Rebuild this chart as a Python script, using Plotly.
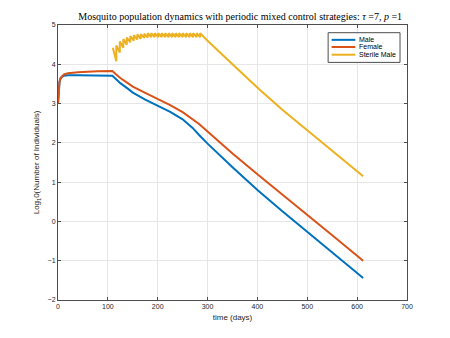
import plotly.graph_objects as go

# Male population (log10)
male_t = [0, 1, 2, 3, 5, 8, 12, 20, 40, 80, 109, 115, 125, 140, 150, 175, 200, 225, 250, 270, 283, 300, 350, 400, 450, 500, 550, 612]
male_y = [3.0, 3.3, 3.45, 3.55, 3.63, 3.68, 3.71, 3.72, 3.72, 3.71, 3.71, 3.64, 3.52, 3.38, 3.28, 3.10, 2.94, 2.79, 2.60, 2.38, 2.20, 1.98, 1.38, 0.80, 0.26, -0.27, -0.79, -1.44]

# Female population (log10)
female_t = [0, 1, 2, 3, 5, 8, 12, 20, 40, 80, 109, 115, 125, 140, 150, 175, 200, 225, 250, 270, 283, 300, 350, 400, 439, 500, 550, 612]
female_y = [3.0, 3.3, 3.45, 3.55, 3.65, 3.70, 3.74, 3.77, 3.80, 3.82, 3.83, 3.76, 3.65, 3.52, 3.43, 3.27, 3.12, 2.96, 2.78, 2.60, 2.48, 2.29, 1.73, 1.20, 0.80, 0.17, -0.35, -1.0]

# Sterile male releases every 7 days: value just after release and just before the next one
release_t = [110, 117, 124, 131, 138, 145, 152, 159, 166, 173, 180, 187, 194, 201, 208, 215, 222, 229, 236, 243, 250, 257, 264, 271, 278, 285]
peak_y = [4.42, 4.48, 4.58, 4.64, 4.68, 4.72, 4.74, 4.76, 4.77, 4.78, 4.79, 4.79, 4.79, 4.79, 4.79, 4.79, 4.79, 4.79, 4.79, 4.79, 4.79, 4.79, 4.79, 4.79, 4.79, 4.79]
trough_y = [4.08, 4.30, 4.42, 4.50, 4.56, 4.60, 4.63, 4.65, 4.67, 4.68, 4.69, 4.69, 4.69, 4.69, 4.69, 4.69, 4.69, 4.69, 4.69, 4.69, 4.69, 4.69, 4.69, 4.69, 4.69]
# decline after the last release
decline_t = [300, 350, 403, 450, 523, 612]
decline_y = [4.60, 4.00, 3.37, 2.84, 2.07, 1.15]

legend_names = ["Male", "Female", "Sterile Male"]
colors = ["#0072BD", "#D95319", "#EDB120"]

sterile_t, sterile_y = [], []
for k, r in enumerate(release_t):
    if k > 0:
        sterile_t.append(r)
        sterile_y.append(trough_y[k - 1])
    sterile_t.append(r)
    sterile_y.append(peak_y[k])
sterile_t += decline_t
sterile_y += decline_y

fig = go.Figure()
series = [(male_t, male_y), (female_t, female_y), (sterile_t, sterile_y)]
for (t, y), name, c in zip(series, legend_names, colors):
    fig.add_trace(go.Scatter(x=t, y=y, mode="lines", name=name, line=dict(color=c, width=2), showlegend=False))

# compact MATLAB-style legend drawn by hand (plotly's legend rows are too tall)
fig.add_shape(type="rect", xref="paper", yref="paper", x0=0.774, x1=0.980, y0=0.864, y1=0.972,
              line=dict(color="#4d4d4d", width=1), fillcolor="white", layer="above")
rows = [0.946, 0.920, 0.892]
for name, c, ry in zip(legend_names, colors, rows):
    fig.add_shape(type="line", xref="paper", yref="paper", x0=0.784, x1=0.852, y0=ry, y1=ry,
                  line=dict(color=c, width=2), layer="above")
    fig.add_annotation(xref="paper", yref="paper", x=0.858, y=ry, text=name, showarrow=False,
                       xanchor="left", yanchor="middle",
                       font=dict(family="Liberation Sans", size=7, color="black"))

axis_style = dict(
    showline=True, linecolor="#4d4d4d", linewidth=1, mirror="ticks",
    ticks="inside", ticklen=3, tickcolor="#4d4d4d",
    showgrid=True, gridcolor="#e6e6e6", gridwidth=1, zeroline=False,
    tickfont=dict(family="Liberation Sans", size=7, color="#262626"),
)

# page body has an 8px margin, so the margins are shifted to compensate
fig.update_layout(
    width=450, height=338,
    margin=dict(l=50, r=51, t=17, b=46),
    paper_bgcolor="white", plot_bgcolor="white",
    title=dict(
        text="Mosquito population dynamics with periodic mixed control strategies: <i>τ</i> =7, <i>p</i> =1",
        x=0.516, xanchor="center", y=0.976, yanchor="middle",
        font=dict(family="Liberation Serif", size=10, color="black"),
    ),
    xaxis=dict(range=[0, 700], dtick=100, title=dict(text="time (days)", standoff=4,
               font=dict(family="Liberation Sans", size=8, color="#262626")), **axis_style),
    yaxis=dict(range=[-2, 5], dtick=1, title=dict(text="Log<sub>1</sub>0(Number of Individuals)", standoff=6,
               font=dict(family="Liberation Sans", size=8, color="#262626")), **axis_style),
)

fig.write_html("out.html")
